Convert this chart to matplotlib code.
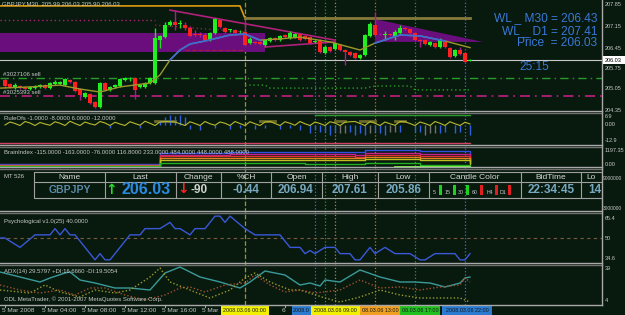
"""GBPJPY M30 terminal screenshot rebuilt with matplotlib."""
import matplotlib

matplotlib.use("Agg")
import matplotlib.pyplot as plt
import numpy as np
from matplotlib.patches import Polygon, Rectangle
from matplotlib.transforms import blended_transform_factory as blend

plt.rcParams["font.family"] = ["Liberation Sans", "DejaVu Sans"]

# ---- candles, bar 0 = 5 Mar 2008 00:00, 30 min per bar
opens = [
    205.35, 205.22, 205.08, 205.15, 205.12, 205.05, 205.08, 205.12, 205.18, 205.08,
    205.22, 205.22, 205.18, 205.35, 205.28, 205.05, 204.78, 204.88, 204.62, 204.45,
    205.25, 205.02, 205.12, 205.15, 205.35, 205.38, 205.42, 205.12, 205.12, 205.25,
    205.25, 206.68, 206.78, 207.18, 207.28, 207.22, 207.18, 207.08, 206.88, 206.88,
    206.85, 206.68, 206.92, 207.35, 207.08, 207.02, 207.02, 206.95, 206.94, 206.58,
    206.62, 206.62, 206.52, 206.65, 206.75, 206.68, 206.85, 206.75, 206.78, 206.88,
    206.82, 206.78, 206.62, 206.68, 206.25, 206.45, 206.38, 206.52, 206.35, 206.28,
    206.25, 206.08, 206.18, 206.82, 207.18, 206.88, 206.85, 206.88, 206.78, 206.92,
    207.08, 207.05, 206.92, 206.68, 206.68, 206.52, 206.58, 206.45, 206.65, 206.42,
    206.15, 206.35, 206.25, 205.99,
]
highs = [
    205.42, 205.25, 205.25, 205.18, 205.15, 205.15, 205.18, 205.22, 205.22, 205.28,
    205.35, 205.32, 205.42, 205.38, 205.32, 205.08, 204.95, 204.92, 204.65, 205.28,
    205.28, 205.15, 205.22, 205.42, 205.45, 205.45, 205.45, 205.22, 205.28, 205.45,
    207.08, 206.85, 207.28, 207.35, 207.68, 207.35, 207.28, 207.15, 207.02, 206.95,
    206.92, 206.95, 207.42, 207.38, 207.12, 207.05, 207.05, 207.02, 207.35, 206.78,
    206.65, 206.65, 206.72, 206.78, 206.78, 206.85, 206.88, 206.98, 206.92, 206.92,
    206.85, 206.82, 206.68, 206.72, 206.52, 206.48, 206.62, 206.55, 206.38, 206.32,
    206.28, 206.22, 206.88, 207.28, 207.61, 206.92, 206.98, 206.88, 207.02, 207.18,
    207.12, 207.08, 206.95, 206.72, 206.72, 206.65, 206.62, 206.75, 206.68, 206.45,
    206.38, 206.45, 206.28, 206.05,
]
lows = [
    205.08, 205.08, 205.05, 205.05, 205.02, 205.02, 205.05, 205.08, 205.05, 205.05,
    205.18, 205.18, 205.15, 205.25, 204.95, 204.68, 204.75, 204.55, 204.42, 204.42,
    204.98, 204.98, 205.08, 205.12, 205.32, 205.32, 204.72, 205.08, 205.08, 205.22,
    205.22, 206.42, 206.75, 207.15, 207.02, 207.08, 207.02, 206.78, 206.82, 206.78,
    206.65, 206.65, 206.88, 207.08, 206.92, 206.95, 206.88, 206.92, 206.48, 206.55,
    206.55, 206.52, 206.48, 206.62, 206.65, 206.65, 206.75, 206.72, 206.75, 206.65,
    206.68, 206.55, 206.58, 206.25, 206.22, 206.28, 206.35, 206.32, 205.86, 206.15,
    206.05, 206.05, 206.15, 206.78, 206.82, 206.85, 206.68, 206.82, 206.68, 206.88,
    207.02, 206.88, 206.65, 206.45, 206.52, 206.48, 206.42, 206.42, 206.42, 206.08,
    206.12, 206.18, 205.92, 205.98,
]
closes = [
    205.15, 205.12, 205.18, 205.08, 205.05, 205.12, 205.15, 205.18, 205.08, 205.25,
    205.28, 205.28, 205.38, 205.28, 204.98, 204.85, 204.92, 204.58, 204.45, 205.25,
    205.02, 205.12, 205.18, 205.38, 205.42, 205.39, 205.02, 205.18, 205.25, 205.42,
    206.75, 206.82, 207.18, 207.28, 207.18, 207.23, 207.08, 206.82, 206.85, 206.85,
    206.68, 206.92, 207.38, 207.12, 206.95, 207.03, 206.92, 206.96, 206.52, 206.72,
    206.58, 206.55, 206.68, 206.75, 206.68, 206.82, 206.78, 206.92, 206.88, 206.68,
    206.72, 206.58, 206.63, 206.28, 206.45, 206.32, 206.58, 206.35, 206.28, 206.18,
    206.08, 206.18, 206.85, 207.22, 206.85, 206.87, 206.88, 206.85, 206.95, 207.08,
    207.05, 206.92, 206.68, 206.65, 206.55, 206.62, 206.45, 206.72, 206.45, 206.12,
    206.35, 206.22, 205.95, 206.03,
]

# moving average (knots), blue where it turns up
ma_bars = [-1, 5, 11, 15, 19, 23, 29, 31, 33, 35, 37, 40, 45, 48, 51, 55, 59, 65, 71, 74, 79, 83, 88, 93]
ma_vals = [205.08, 205.12, 205.18, 205.05, 204.95, 205.12, 205.25, 205.52, 206.02, 206.35, 206.55, 206.65,
           206.85, 206.88, 206.68, 206.72, 206.78, 206.62, 206.35, 206.58, 206.85, 206.82, 206.65, 206.43]
ma_blue_spans = [(33, 51), (74, 88)]

# overlays on the price chart
prev_day_bars = [-1, 47, 48]
prev_day_vals = [207.82, 207.82, 207.41]
wl_d1_bars = [48, 93]
wl_d1 = 207.41
bid = 206.03
sell_levels = [205.42, 204.82]
sell_labels = ["#3027106 sell", "#3025393 sell"]
trend_a = ([33, 66], [207.68, 206.68])
trend_b = ([52, 66], [206.45, 206.62])
box_bars = (-1, 52)
box_prices = (206.28, 206.92)
wedge_bars = [74, 95.6, 74]
wedge_prices = [207.38, 206.62, 206.62]
pivot_bars = [48, 52, 53, 72, 74, 81, 82, 93]
pivot_vals = [205.18, 205.18, 205.08, 205.08, 205.15, 205.15, 205.02, 205.02]

# event lines (bar, colour, style)
event_bars = [48, 62, 64, 66, 74, 82, 92]
event_cols = ["#a09030", "#4a6ad0", "#2a9a2a", "#a09030", "#d07020", "#2a9a2a", "#4a6ad0"]
event_styles = ["--", ":", ":", ":", ":", ":", ":"]

# RuleOfs sub-window
wave = [
    0.0, 2.4, 1.2, -0.4, 2.8, 1.6, -0.4, 2.0, 0.8, -0.2,
    2.6, 1.4, -0.4, 3.0, 1.2, -0.4, 2.4, 1.0, 0.0, 2.8,
    1.6, -0.4, 2.2, 0.8, -0.4, 2.6, 1.2, -0.2, 3.0, 1.4,
    -0.4, 2.4, 2.8, 2.6, 2.4, 1.0, -0.4, 2.6, 1.2, -0.4,
    2.8, 1.0, -0.2, 2.4, 1.4, -0.4, 2.8, 1.2, -0.4, 2.6,
    1.0, -0.4, 2.4, 2.8, 1.2, -0.4, 2.6, 1.4, -0.2, 2.8,
    1.0, -0.4, 2.4, 1.2, -0.4, 2.6, 1.6, -0.4, 2.2, 2.6,
    2.8, 1.2, -0.4, 2.8, 1.4, -0.4, 2.4, 1.0, -0.2, 2.8,
    2.6, 1.2, -0.4, 2.4, 1.2, -0.4, 2.8, 1.4, -0.4, 2.6,
    1.0, -0.4, 2.2, 0.8,
]
hump_spans = [(30, 34), (51, 54), (66, 68), (71, 74), (78, 80)]
hist_bars = [21, 27, 31, 32, 33, 34, 35, 36, 37, 39, 42, 45, 47, 50, 52, 55, 57, 59, 61, 62,
             63, 64, 65, 66, 67, 68, 69, 70, 71, 72, 73, 74, 75, 76, 77, 78, 79, 82, 83, 84,
             85, 86, 87, 88, 90, 91, 93]
hist_vals = [-2.4, -2.4, 3.0, 6.0, 8.0, 7.0, 8.0, 6.0, -3.0, -4.0, -2.4, -3.0, -2.4, -3.0, -2.4,
             -3.0, -2.4, -4.0, -6.4, -4.0, -5.3, -5.3, -8.0, -5.3, -6.7, -6.7, -5.3, -8.0, -6.7,
             -8.0, -6.7, -5.3, -6.7, -8.0, -5.3, -5.3, -5.3, -5.3, -5.3, -8.0, -6.7, -6.7, -6.7,
             -5.3, -6.7, -5.3, -8.0]
hist_gray = [67, 68, 73, 77, 78, 84, 85, 86]

# BrainIndex sub-window
brain_bars = [-1, 26, 31, 45, 60, 70, 72, 83, 93]
brain_lines = {
    "#3050e0": [150, 150, 975, 1050, 1050, 1050, 1200, 1125, 525],
    "#c02090": [75, 75, 825, 900, 900, 825, 975, 900, 300],
    "#e03030": [75, 75, 750, 750, 750, 675, 825, 750, 375],
    "#e08020": [0, 0, 600, 600, 600, 600, 675, 600, 225],
    "#c0c020": [0, 0, 450, 450, 450, 450, 525, 450, 150],
    "#20b020": [0, 0, 225, 225, 150, 150, 225, 75, -75],
}

# Psychological sub-window
psy_bars = [-1, 0, 3, 6, 9, 10, 11, 12, 13, 14, 17, 18, 19, 20, 21, 24, 25, 27, 28, 31,
            33, 34, 35, 37, 38, 40, 42, 43, 44, 45, 48, 50, 55, 57, 59, 60, 61, 62, 63, 64,
            66, 67, 69, 70, 71, 73, 74, 76, 78, 81, 82, 83, 84, 86, 90, 91, 92, 93]
psy_vals = [50, 50, 44, 52, 52, 56, 52, 56, 52, 52, 40, 36, 40, 36, 36, 48, 52, 52, 56, 56,
            60, 56, 56, 52, 56, 56, 64, 64, 60, 64, 56, 52, 52, 44, 44, 40, 42, 40, 42, 44,
            44, 40, 40, 36, 36, 44, 40, 44, 40, 40, 38, 36, 36, 40, 40, 36, 36, 40]

# ADX sub-window
adx_bars = [-1, 3, 7, 9, 12, 13, 15, 18, 22, 25, 29, 32, 35, 39, 43, 47, 49, 52, 56, 59,
            61, 63, 64, 67, 71, 75, 79, 82, 85, 88, 91, 92, 93]
adx_vals = [33, 28, 23, 27, 32, 33, 25, 22, 17, 17, 15, 32, 38, 28, 23, 17, 23, 34, 30, 20,
            22, 19, 25, 23, 35, 28, 23, 23, 22, 18, 22, 27, 28]
pdi_bars = [-1, 5, 8, 11, 15, 18, 22, 25, 29, 31, 33, 37, 41, 45, 48, 50, 53, 57, 59, 64,
            67, 71, 75, 79, 83, 87, 91, 93]
pdi_vals = [15, 12, 20, 13, 8, 15, 12, 15, 28, 37, 23, 15, 7, 15, 27, 32, 23, 15, 15, 7,
            3, 8, 15, 10, 7, 7, 7, 3]
mdi_bars = [-1, 3, 7, 11, 14, 17, 20, 24, 28, 32, 35, 37, 40, 44, 48, 50, 53, 56, 59, 62,
            67, 71, 75, 79, 83, 87, 91, 92, 93]
mdi_vals = [20, 15, 12, 15, 10, 17, 17, 10, 5, 10, 17, 18, 13, 20, 22, 30, 20, 13, 15, 12,
            15, 25, 17, 18, 15, 18, 20, 27, 23]

# time axis (labels partly hidden behind the event tags, as on screen)
time_bars = [0, 8, 16, 24, 32, 40, 56]
time_labels = ["5 Mar 2008", "5 Mar 04:00", "5 Mar 08:00", "5 Mar 12:00",
               "5 Mar 16:00", "5 Mar", "6"]
tag_b0 = [43.2, 57.4, 61.2, 71.0, 79.0, 87.4]
tag_b1 = [52.8, 61.2, 71.0, 79.0, 87.0, 97.4]
tag_text = ["2008.03.06 00:00", "2008.0", "2008.03.06 09:00", "08.03.06 13:00",
            "08.03.06 17:00", "2008.03.06 22:00"]
tag_cols = ["#f0f000", "#2a7ad0", "#f0f000", "#f0a020", "#20c020", "#2a7ad0"]

# quote board
headers = ["Name", "Last", "Change", "%CH", "Open", "High", "Low", "Candle Color", "BidTime", "Lo"]
col_edges = [34, 105, 176, 221, 271, 322, 378, 429, 521, 581, 660]
tf_names = ["5", "15", "30", "60", "H4", "D1"]
tf_cols = ["#20d020", "#20d020", "#20d020", "#e02020", "#e02020", "#e02020"]

# ------------------------------------------------------------------
W, H = 625, 315
BG = "#081a0e"
TXT = "#c8c8c8"
SEP = "#a8a8a8"
XLIM = (-1, 119.4)
SMALL = 4.3

fig = plt.figure(figsize=(W / 100, H / 100), dpi=100, facecolor=BG)


def fy(y):
    return 1 - y / H


def panel(top, bottom, ylim, z=1):
    ax = fig.add_axes([0, fy(bottom), 602 / W, (bottom - top) / H], zorder=z)
    ax.set_xlim(*XLIM)
    ax.set_ylim(*ylim)
    ax.set_axis_off()
    return ax


def ftext(x, y, s, **kw):
    kw.setdefault("fontsize", SMALL)
    kw.setdefault("color", TXT)
    kw.setdefault("va", "center")
    fig.text(x / W, fy(y), s, **kw)


# event lines run through every sub-window
ax_ev = panel(0, 305, (0, 1), z=0)
for b, c, s in zip(event_bars, event_cols, event_styles):
    ax_ev.axvline(b, color=c, ls=s, lw=0.9)

# ---- main chart
ax = panel(0, 111, (204.317, 208.017))
idx = np.arange(len(opens))
o, h, l, c = map(np.array, (opens, highs, lows, closes))
up = c >= o
ax.add_patch(Rectangle((box_bars[0], box_prices[0]), box_bars[1] - box_bars[0],
                       box_prices[1] - box_prices[0], color="#6a0e7e", lw=0, zorder=1))
ax.add_patch(Polygon(list(zip(wedge_bars, wedge_prices)), color="#6a0e7e", lw=0, zorder=1))
ax.plot(prev_day_bars, prev_day_vals, color="#e09a10", lw=1.2, zorder=2)
ax.plot(wl_d1_bars, [wl_d1, wl_d1], color="#857a3a", lw=2, zorder=2)
ax.plot([-1, 30], [207.35, 207.35], color="#b02070", ls=(0, (1, 2)), lw=1, zorder=2)
ax.plot([30, 48], [207.18, 206.95], color="#902040", ls=(0, (1, 2)), lw=1, zorder=2)
ax.plot([36, 48], [206.35, 206.35], color="#a01840", ls="--", lw=0.9, zorder=2)
ax.axhline(bid, color="#c8c8c8", lw=0.8, zorder=2)
ax.axhline(sell_levels[0], color="#2a9a2a", ls=(0, (6, 3, 1, 3)), lw=1, zorder=2)
ax.axhline(sell_levels[1], color="#c02080", ls=(0, (6, 3, 1, 3)), lw=1.2, zorder=2)
for lvl, lab in zip(sell_levels, sell_labels):
    ax.text(-0.4, lvl + 0.04, lab, fontsize=SMALL, color=TXT, va="bottom", zorder=6)
ax.plot(*trend_a, color="#b0207a", lw=1.2, zorder=2)
ax.plot(*trend_b, color="#b0207a", lw=1.2, zorder=2)
ax.plot(pivot_bars, pivot_vals, color="#2a9a2a", ls=(0, (1, 2)), lw=1, zorder=2)

wick_cols = np.where(up, "#20e020", "#b01890")
body_cols = np.where(up, "#20f020", "#ff2020")
ax.vlines(idx, l, h, colors=wick_cols, lw=1, zorder=3)
ax.bar(idx, np.maximum(np.abs(c - o), 0.015), bottom=np.minimum(o, c), width=0.64,
       color=body_cols, lw=0, zorder=3)

mb, mv = np.array(ma_bars), np.array(ma_vals)
ax.plot(mb, mv, color="#9a9a2a", lw=1, zorder=4)
for s0, s1 in ma_blue_spans:
    m = (mb >= s0) & (mb <= s1)
    ax.plot(mb[m], mv[m], color="#3a6ad8", lw=1.2, zorder=4)

ftext(2, 4, "GBPJPY,M30  205.99 206.03 205.90 206.03")
for y, s in [(18, "WL _ M30 = 206.43"), (31, "WL _ D1 = 207.41"), (43, "Price  = 206.03")]:
    ftext(597, y, s, fontsize=8.6, color="#3a78d8", ha="right")
ftext(534, 67, "25:15", fontsize=8.6, color="#3a78d8", ha="center")
for y, s in [(5, "207.85"), (27, "207.15"), (48, "206.45"), (68, "205.75"), (89, "205.05"), (110, "204.35")]:
    ftext(605, y, s, fontsize=4)
fig.patches.append(Rectangle((603 / W, fy(64)), 22 / W, 8 / H, transform=fig.transFigure,
                             facecolor="white", edgecolor="none", zorder=5))
ftext(605, 60, "206.03", fontsize=4, color="black", zorder=6)

# ---- RuleOfs
ax = panel(113, 145, (-16, 9.6))
ax.plot(np.arange(len(wave)), wave, color="#b8b830", lw=0.8, zorder=3)
for s0, s1 in hump_spans:
    ax.plot([s0, s1], [3.2, 3.2], color="#6a6a2a", lw=2, zorder=2)
hcols = ["#707070" if b in hist_gray else "#3060e0" for b in hist_bars]
ax.vlines(hist_bars, 0, hist_vals, colors=hcols, lw=1, zorder=2)
ax.plot([62, 93], [8, 8], color="#2a9a2a", lw=1)
ax.plot([-1, 93], [-14.4, -14.4], color="#d04060", lw=1)
ftext(4, 119, "RuleOfs -1.0000 -8.0000 6.0000 -12.0000")
ftext(605, 116, "6.9", fontsize=4)
ftext(605, 125, "0.00", fontsize=4)
ftext(605, 140, "-12.9", fontsize=4)

# ---- BrainIndex
ax = panel(147, 167, (-75, 1425))
for col, vals in brain_lines.items():
    ax.step(brain_bars, vals, where="post", color=col, lw=1)
ax.plot([78, 93], [-60, -60], color="#80ff40", lw=1.3)
ftext(4, 152, "BrainIndex -115.0000 -163.0000 -76.0000 116.8000 233.0000 484.0000 448.0000 488.0000")
ftext(605, 150, "1197.35", fontsize=4)
ftext(605, 165, "0.00", fontsize=4)

# ---- quote board
axt = fig.add_axes([0, fy(211), 602 / W, 43 / H], zorder=2)
axt.set_xlim(0, 602)
axt.set_ylim(211, 168)
axt.set_axis_off()
ftext(4, 177, "MT 526")
axt.add_patch(Rectangle((34, 172), 640, 26, fill=False, ec="#a0a0a0", lw=0.8))
axt.plot([34, 660], [182, 182], color="#a0a0a0", lw=0.8)
axt.vlines(col_edges[1:-1], 172, 198, colors="#a0a0a0", lw=0.8)
for i, hd in enumerate(headers):
    if i == len(headers) - 1:
        axt.text(col_edges[i] + 5, 177.5, hd, fontsize=6, color="#d8d8d8", va="center")
    else:
        axt.text((col_edges[i] + col_edges[i + 1]) / 2, 177.5, hd, fontsize=6,
                 color="#d8d8d8", ha="center", va="center")
VAL = "#78a8c0"
axt.text(70, 190, "GBPJPY", fontsize=7.5, weight="bold", color="#5a8aa8", ha="center", va="center")
axt.text(111, 190, "\u2191", fontsize=10, weight="bold", color="#20e020", ha="center", va="center",
         family="DejaVu Sans")
axt.text(146, 190, "206.03", fontsize=11.5, weight="bold", color="#2a8ae0", ha="center", va="center")
axt.text(183, 189, "\u2193", fontsize=10, weight="bold", color="#ff2020", ha="center", va="center",
         family="DejaVu Sans")
axt.text(199, 190, "-90", fontsize=8.5, weight="bold", color="#d0d0d0", ha="center", va="center")
for x, s in [(246, "-0.44"), (296, "206.94"), (350, "207.61"), (404, "205.86"), (551, "22:34:45")]:
    axt.text(x, 190, s, fontsize=8.5, weight="bold", color=VAL, ha="center", va="center")
axt.text(588, 190, "14", fontsize=8.5, weight="bold", color=VAL, va="center", clip_on=True)
tf_x = [433, 445, 458, 472, 487, 500]
for x, name, col in zip(tf_x, tf_names, tf_cols):
    axt.text(x, 193, name, fontsize=3.8, color=TXT, va="center")
    axt.add_patch(Rectangle((x + 4 + 2.2 * len(name), 184.5), 2.4, 10.5, color=col, lw=0))
ftext(603, 178, "9000000", fontsize=3.5)
ftext(603, 208, "3000000", fontsize=3.5)

# ---- Psychological
ax = panel(213, 263, (34, 66))
ax.axhline(50, color="#7a5a40", ls=(0, (3, 3)), lw=0.8)
ax.plot(psy_bars, psy_vals, color="#3a58d8", lw=1)
ftext(4, 221, "Psychological v1.0(25) 40.0000")
ftext(605, 219, "65.4", fontsize=4)
ftext(605, 238, "50", fontsize=4)
ftext(605, 259, "34.6", fontsize=4)

# ---- ADX
ax = panel(265, 305, (0, 40))
ax.plot(adx_bars, adx_vals, color="#3a9a9a", lw=1)
ax.plot(pdi_bars, pdi_vals, color="#9a9a30", ls=(0, (1, 1.5)), lw=1)
ax.plot(mdi_bars, mdi_vals, color="#a05030", ls=(0, (1, 1.5)), lw=1)
ftext(4, 271, "ADX(14) 29.5797 +DI:16.6660 -DI:19.5054")
ftext(4, 299, "ODL MetaTrader, \u00a9 2001-2007 MetaQuotes Software Corp.")
ftext(605, 268, "39", fontsize=4)
ftext(605, 300, "4", fontsize=4)

# ---- frame: separators, right scale edge, time axis
for y in [111, 145, 167, 211, 263]:
    fig.add_artist(plt.Line2D([0, 602 / W], [fy(y), fy(y)], color=SEP, lw=1))
    fig.add_artist(plt.Line2D([0, 602 / W], [fy(y + 2), fy(y + 2)], color="#707070", lw=1))
fig.add_artist(plt.Line2D([0, 602 / W], [fy(305), fy(305)], color=SEP, lw=1))
fig.add_artist(plt.Line2D([602 / W, 602 / W], [fy(305), 1], color=SEP, lw=1))

xfig = blend(ax_ev.transData, fig.transFigure)
for b, lab in zip(time_bars, time_labels):
    ax_ev.text(b - 0.6, fy(310.5), lab, transform=xfig, fontsize=4.6, color=TXT,
               va="center", clip_on=False, zorder=4)
    ax_ev.plot([b, b], [fy(305), fy(307)], transform=xfig, color=SEP, lw=0.8, clip_on=False)
for b0, b1, s, col in zip(tag_b0, tag_b1, tag_text, tag_cols):
    ax_ev.add_patch(Rectangle((b0, fy(314.5)), b1 - b0, 8.5 / H, transform=xfig,
                              color=col, lw=0, clip_on=False, zorder=5))
    ax_ev.text((b0 + b1) / 2, fy(310.5), s, transform=xfig, fontsize=3.9, color="#151515",
               ha="center", va="center", clip_on=False, zorder=6)

fig.savefig("out.png", dpi=100, facecolor=BG)
